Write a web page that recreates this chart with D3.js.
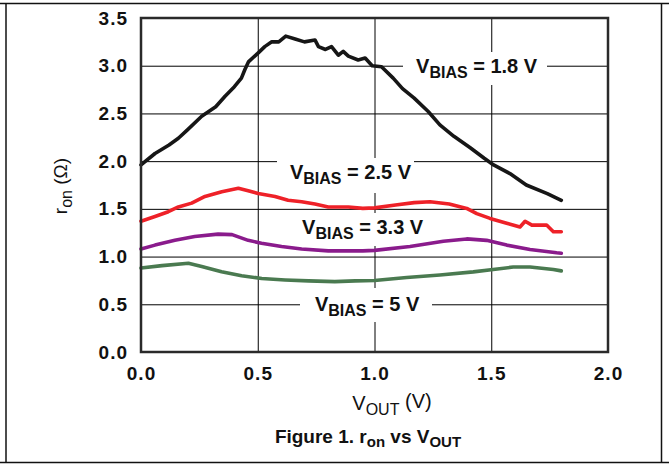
<!DOCTYPE html>
<html>
<head>
<meta charset="utf-8">
<script src="https://cdn.jsdelivr.net/npm/d3@7"></script>
<style>
  html, body { margin: 0; padding: 0; background: #fff; }
  svg { display: block; font-family: "Liberation Sans", Arial, sans-serif; }
</style>
</head>
<body>
<div class="container_graph"></div>
<script>
// values (V_OUT in V, r_on in ohm)
const bias18 = [
  [0.00, 1.96], [0.06, 2.08], [0.12, 2.17], [0.16, 2.24], [0.20, 2.33], [0.26, 2.47],
  [0.32, 2.57], [0.36, 2.68], [0.40, 2.78], [0.43, 2.87], [0.445, 2.96], [0.46, 3.04],
  [0.50, 3.13], [0.53, 3.20], [0.56, 3.25], [0.59, 3.25], [0.62, 3.31], [0.66, 3.28],
  [0.70, 3.25], [0.745, 3.27], [0.76, 3.20], [0.79, 3.17], [0.816, 3.20], [0.845, 3.11],
  [0.866, 3.15], [0.888, 3.10], [0.93, 3.06], [0.96, 3.08], [0.99, 3.00], [1.03, 2.99],
  [1.08, 2.87], [1.12, 2.76], [1.17, 2.66], [1.23, 2.52], [1.28, 2.38], [1.34, 2.26],
  [1.41, 2.14], [1.47, 2.03], [1.51, 1.96], [1.58, 1.87], [1.65, 1.75], [1.74, 1.66],
  [1.80, 1.59]
];
const bias25 = [
  [0.00, 1.37], [0.06, 1.42], [0.117, 1.47], [0.16, 1.52], [0.217, 1.56], [0.274, 1.63],
  [0.346, 1.68], [0.417, 1.715], [0.459, 1.69], [0.502, 1.66], [0.574, 1.63], [0.63, 1.59],
  [0.688, 1.575], [0.745, 1.55], [0.802, 1.52], [0.888, 1.52], [0.95, 1.505], [1.0, 1.51],
  [1.09, 1.54], [1.17, 1.565], [1.238, 1.575], [1.32, 1.55], [1.395, 1.505], [1.438, 1.45],
  [1.495, 1.40], [1.566, 1.35], [1.623, 1.31], [1.645, 1.37], [1.674, 1.33], [1.737, 1.33],
  [1.766, 1.26], [1.80, 1.26]
];
const bias33 = [
  [0.00, 1.08], [0.06, 1.12], [0.145, 1.17], [0.23, 1.21], [0.33, 1.235], [0.39, 1.23],
  [0.459, 1.17], [0.516, 1.14], [0.602, 1.105], [0.688, 1.08], [0.802, 1.06], [0.888, 1.06],
  [0.95, 1.06], [1.0, 1.065], [1.152, 1.105], [1.295, 1.16], [1.395, 1.185], [1.48, 1.17],
  [1.566, 1.12], [1.666, 1.075], [1.78, 1.04], [1.80, 1.035]
];
const bias50 = [
  [0.00, 0.88], [0.09, 0.905], [0.203, 0.93], [0.26, 0.895], [0.345, 0.84], [0.431, 0.80],
  [0.517, 0.77], [0.617, 0.755], [0.717, 0.745], [0.83, 0.737], [0.917, 0.745], [1.0, 0.75],
  [1.138, 0.78], [1.28, 0.807], [1.423, 0.84], [1.508, 0.865], [1.594, 0.89], [1.666, 0.89],
  [1.766, 0.865], [1.80, 0.85]
];
const xTicks = [0, 0.5, 1.0, 1.5, 2.0];
const yTicks = [0, 0.5, 1.0, 1.5, 2.0, 2.5, 3.0, 3.5];
const seriesNames = ["1.8 V", "2.5 V", "3.3 V", "5 V"];

const width = 669;
const height = 466;
const margin = { top: 18, right: 61, bottom: 114, left: 141 };

const series = [
  { name: seriesNames[0], values: bias18, color: "#161616", label: [1.178, 2.92], box: [403, 52, 144, 33] },
  { name: seriesNames[1], values: bias25, color: "#ee2128", label: [0.638, 1.81], box: [277, 158, 137, 35] },
  { name: seriesNames[2], values: bias33, color: "#8a1b8c", label: [0.69, 1.24], box: [295, 213, 133, 33] },
  { name: seriesNames[3], values: bias50, color: "#4a7a50", label: [0.745, 0.43], box: [300, 288, 132, 34] }
];

const svg = d3
  .select(".container_graph")
  .append("svg")
  .attr("width", width)
  .attr("height", height);

// outer figure frame
svg.append("line").attr("x1", 0).attr("x2", width).attr("y1", 3.5).attr("y2", 3.5)
  .attr("stroke", "#111").attr("stroke-width", 1.5);
svg.append("line").attr("x1", 0).attr("x2", width).attr("y1", 462.5).attr("y2", 462.5)
  .attr("stroke", "#111").attr("stroke-width", 1.5);
svg.append("line").attr("x1", 6).attr("x2", 6).attr("y1", 3.5).attr("y2", 462.5)
  .attr("stroke", "#111").attr("stroke-width", 1.5);
svg.append("line").attr("x1", 661.5).attr("x2", 661.5).attr("y1", 3.5).attr("y2", 462.5)
  .attr("stroke", "#111").attr("stroke-width", 1.5);

const xScale = d3.scaleLinear().domain([0, 2]).range([margin.left, width - margin.right]);
const yScale = d3.scaleLinear().domain([0, 3.5]).range([height - margin.bottom, margin.top]);

// grid
svg.append("g")
  .attr("transform", `translate(0,${height - margin.bottom})`)
  .call(d3.axisBottom(xScale).tickValues(xTicks).tickSize(-(height - margin.top - margin.bottom)).tickFormat(""))
  .call((g) => g.select(".domain").remove())
  .call((g) => g.selectAll("line").attr("stroke", "#000").attr("stroke-width", 1));
svg.append("g")
  .attr("transform", `translate(${margin.left},0)`)
  .call(d3.axisLeft(yScale).tickValues(yTicks).tickSize(-(width - margin.left - margin.right)).tickFormat(""))
  .call((g) => g.select(".domain").remove())
  .call((g) => g.selectAll("line").attr("stroke", "#000").attr("stroke-width", 1));

// label backgrounds break the grid lines
svg.selectAll("rect.labelbg")
  .data(series)
  .enter()
  .append("rect")
  .attr("class", "labelbg")
  .attr("x", (d) => d.box[0])
  .attr("y", (d) => d.box[1])
  .attr("width", (d) => d.box[2])
  .attr("height", (d) => d.box[3])
  .attr("fill", "#fff");

// curves
const line = d3.line()
  .x((d) => xScale(d[0]))
  .y((d) => yScale(d[1]));

svg.selectAll("path.curve")
  .data(series)
  .enter()
  .append("path")
  .attr("class", "curve")
  .attr("d", (d) => line(d.values))
  .attr("fill", "none")
  .attr("stroke", (d) => d.color)
  .attr("stroke-width", 3.6)
  .attr("stroke-linejoin", "round")
  .attr("stroke-linecap", "round");

// plot frame
svg.append("rect")
  .attr("x", margin.left)
  .attr("y", margin.top)
  .attr("width", width - margin.left - margin.right)
  .attr("height", height - margin.top - margin.bottom)
  .attr("fill", "none")
  .attr("stroke", "#2a2a2a")
  .attr("stroke-width", 2.5);

// tick labels
const tickStyle = (g) => g.selectAll("text")
  .attr("fill", "#111")
  .style("font-family", "'Liberation Sans', Arial, sans-serif")
  .style("font-size", "19px")
  .style("font-weight", "bold")
  .style("letter-spacing", "1px");

svg.append("g")
  .attr("transform", `translate(${margin.left},0)`)
  .call(d3.axisLeft(yScale).tickValues(yTicks).tickSize(0).tickPadding(13).tickFormat(d3.format(".1f")))
  .call((g) => g.select(".domain").remove())
  .call(tickStyle);

svg.append("g")
  .attr("transform", `translate(0,${height - margin.bottom})`)
  .call(d3.axisBottom(xScale).tickValues(xTicks).tickSize(0).tickPadding(15).tickFormat(d3.format(".1f")))
  .call((g) => g.select(".domain").remove())
  .call(tickStyle);

// series labels
const labels = svg.selectAll("text.serieslabel")
  .data(series)
  .enter()
  .append("text")
  .attr("class", "serieslabel")
  .attr("x", (d) => xScale(d.label[0]))
  .attr("y", (d) => yScale(d.label[1]))
  .attr("fill", "#111")
  .attr("font-weight", "bold")
  .style("font-size", "20px");
labels.append("tspan").text("V");
labels.append("tspan").attr("dy", 5).style("font-size", "16px").text("BIAS");
labels.append("tspan").attr("dy", -5).text((d) => " = " + d.name);

// axis titles
const yLabel = svg.append("text")
  .attr("transform", `translate(67, 186) rotate(-90)`)
  .attr("text-anchor", "middle")
  .attr("fill", "#111")
  .style("font-size", "19px");
yLabel.append("tspan").text("r");
yLabel.append("tspan").attr("dy", 5).style("font-size", "16px").text("on");
yLabel.append("tspan").attr("dy", -5).text(" (\u03A9)");

const xLabel = svg.append("text")
  .attr("x", 392)
  .attr("y", 410)
  .attr("text-anchor", "middle")
  .attr("fill", "#111")
  .style("font-size", "20px");
xLabel.append("tspan").text("V");
xLabel.append("tspan").attr("dy", 5).style("font-size", "16px").text("OUT");
xLabel.append("tspan").attr("dy", -7).text(" (V)");

const title = svg.append("text")
  .attr("x", 368)
  .attr("y", 443)
  .attr("text-anchor", "middle")
  .attr("fill", "#111")
  .attr("font-weight", "bold")
  .style("font-size", "19px");
title.append("tspan").text("Figure 1. r");
title.append("tspan").attr("dy", 4).style("font-size", "15px").text("on");
title.append("tspan").attr("dy", -4).text(" vs V");
title.append("tspan").attr("dy", 4).style("font-size", "15px").text("OUT");
</script>
</body>
</html>
